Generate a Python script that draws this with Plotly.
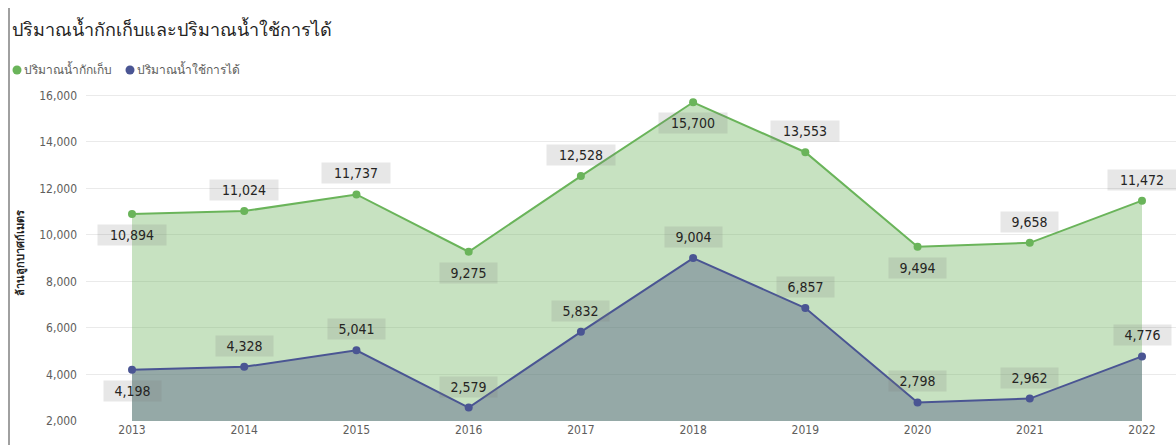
import plotly.graph_objects as go

years = [2013, 2014, 2015, 2016, 2017, 2018, 2019, 2020, 2021, 2022]
storage = [10894, 11024, 11737, 9275, 12528, 15700, 13553, 9494, 9658, 11472]
usable = [4198, 4328, 5041, 2579, 5832, 9004, 6857, 2798, 2962, 4776]
storage_label_pos = ["below", "above", "above", "below", "above", "below", "above", "below", "above", "above"]
usable_label_pos = ["below", "above", "above", "above", "above", "above", "above", "above", "above", "above"]

name_storage = "ปริมาณน้ำกักเก็บ"
name_usable = "ปริมาณน้ำใช้การได้"
title_text = "ปริมาณน้ำกักเก็บและปริมาณน้ำใช้การได้"
ytitle = "ล้านลูกบาศก์เมตร"
yticks = [2000, 4000, 6000, 8000, 10000, 12000, 14000, 16000]

GREEN = "#6AB45A"
BLUE = "#4A5593"
TXT = "#605E5C"

L, T, B = 86, 86, 24
PW, PH = 1176 - L, 445 - T - B


def px(x):
    return (x - L) / PW


def py(y):
    return (445 - B - y) / PH


xi = list(range(len(years)))

fig = go.Figure()
fig.add_trace(go.Scatter(x=xi, y=storage, mode="lines+markers", fill="tozeroy",
                         fillcolor="rgba(107,180,91,0.38)", line=dict(color=GREEN, width=2),
                         marker=dict(size=8, color=GREEN), showlegend=False, name=name_storage))
fig.add_trace(go.Scatter(x=xi, y=usable, mode="lines+markers", fill="tozeroy",
                         fillcolor="rgba(75,85,128,0.40)", line=dict(color=BLUE, width=2),
                         marker=dict(size=8, color=BLUE), showlegend=False, name=name_usable))

LBL_FONT = dict(family="DejaVu Sans Condensed, DejaVu Sans", size=14, color="#252423")
for vals, pos in ((storage, storage_label_pos), (usable, usable_label_pos)):
    for i, (v, p) in enumerate(zip(vals, pos)):
        txt = f"{v:,}"
        fig.add_annotation(x=i, y=v, xref="x", yref="y", text=txt, showarrow=False,
                           yshift=21 if p == "above" else -21, font=LBL_FONT,
                           width=11 * len(txt) + 2, height=20,
                           bgcolor="rgba(120,120,120,0.18)", borderpad=0)

# y-axis title
fig.add_annotation(text=f"<b>{ytitle}</b>", xref="paper", yref="paper", x=px(20), y=py(253),
                   textangle=-90, showarrow=False, xanchor="center", yanchor="middle",
                   font=dict(family="Noto Sans, sans-serif", size=11, color="#252423"))

# manual legend
LEG_FONT = dict(family="Noto Sans, sans-serif", size=12, color=TXT)
for cx, tx, col, nm in ((17, 22, GREEN, name_storage), (130, 135, BLUE, name_usable)):
    fig.add_shape(type="circle", xref="paper", yref="paper", x0=px(cx - 4.5), x1=px(cx + 4.5),
                  y0=py(70 + 4.5), y1=py(70 - 4.5), fillcolor=col, line=dict(width=0))
    fig.add_annotation(text=nm, xref="paper", yref="paper", x=px(tx), y=py(70),
                       xanchor="left", yanchor="middle", showarrow=False, font=LEG_FONT)

fig.add_shape(type="line", xref="paper", yref="paper", x0=px(9), x1=px(9),
              y0=py(445), y1=py(8), line=dict(color="#A0A0A0", width=2))

fig.update_layout(
    width=1176, height=445,
    margin=dict(l=L, r=0, t=T, b=B),
    paper_bgcolor="white", plot_bgcolor="white",
    showlegend=False,
    title=dict(text=title_text, x=12 / 1176, xanchor="left", xref="container", y=1 - 30 / 445, yanchor="middle",
               font=dict(family="Noto Sans, sans-serif", size=18, color="#252423")),
    xaxis=dict(range=[-(132 - L) / 112.22, 9 + (1176 - 1142) / 112.22], tickmode="array", tickvals=xi,
               ticktext=[str(y) for y in years], showgrid=False, zeroline=False, showline=False,
               tickfont=dict(family="DejaVu Sans Condensed, DejaVu Sans", size=12, color=TXT), ticks=""),
    yaxis=dict(range=[2000, 16400], tickvals=yticks, tickformat=",d", showgrid=True, gridcolor="#EAEAEA",
               gridwidth=1, zeroline=False, showline=False, ticklabelstandoff=8,
               tickfont=dict(family="DejaVu Sans Condensed, DejaVu Sans", size=12, color=TXT)),
)

fig.write_html("out.html", config={"displayModeBar": False})
with open("out.html", encoding="utf-8") as f:
    html = f.read()
html = html.replace("<body>", '<body style="margin:0;padding:0">', 1)
with open("out.html", "w", encoding="utf-8") as f:
    f.write(html)
